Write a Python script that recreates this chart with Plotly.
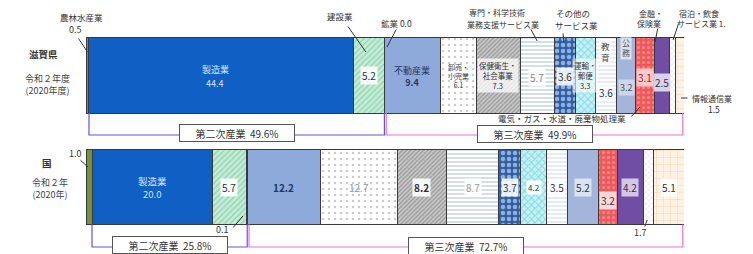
import plotly.graph_objects as go

# ---------------- data ----------------
regions = ["滋賀県", "国"]
industries = ["農林水産業", "製造業", "建設業", "鉱業", "不動産業", "卸売・小売業",
              "保健衛生・社会事業", "専門・科学技術、業務支援サービス業", "その他のサービス業",
              "運輸・郵便業", "教育", "公務", "電気・ガス・水道・廃棄物処理業",
              "金融・保険業", "宿泊・飲食サービス業", "情報通信業"]
shiga = [0.5, 44.4, 5.2, 0.0, 9.4, 6.1, 7.3, 5.7, 3.6, 3.3, 3.6, 3.2, 3.1, 2.5, 1.0, 1.5]
kuni = [1.0, 20.0, 5.7, 0.1, 12.2, 12.7, 8.2, 8.7, 3.7, 4.2, 3.5, 5.2, 3.2, 4.2, 1.7, 5.1]
secondary_share = [49.6, 25.8]
tertiary_share = [49.9, 72.7]
region_sub = ["令和２年度<br>(2020年度)", "令和２年<br>(2020年)"]

# ---------------- styles ----------------
FONT = "Noto Sans CJK JP"
styles = [
    dict(color="#76923c"),
    dict(color="#0f5fc4"),
    dict(color="#c6ecd6", shape="/", fg="#52b788", size=4, sol=0.3),
    dict(color="#c8c8c8"),
    dict(color="#8eaadb"),
    dict(color="#ffffff", shape=".", fg="#9a9a9a", size=6, sol=0.15),
    dict(color="#c8c8c8", shape="/", fg="#666666", size=3, sol=0.4),
    dict(color="#ffffff", shape="-", fg="#9fb3d9", size=4, sol=0.45),
    dict(color="#2e5faa", shape=".", fg="#ffffff", size=6, sol=0.45),
    dict(color="#c6f1f4", shape="x", fg="#3cc0d0", size=5, sol=0.35),
    dict(color="#ffffff", shape="-", fg="#a6bde0", size=4, sol=0.3),
    dict(color="#a3b5db"),
    dict(color="#ee5a5a", shape=".", fg="#ffb4b4", size=5, sol=0.3),
    dict(color="#6f4ea3"),
    dict(color="#ffffff", shape="x", fg="#a0b0c8", size=4, sol=0.2),
    dict(color="#fff3e6", shape="+", fg="#f3b97c", size=7, sol=0.15),
]

ROW_Y = [1, 0]          # 滋賀県 on top, 国 below
BAR_W = 0.673
PX_PER_Y = 111.5        # pixels per y unit

fig = go.Figure()
for i, name in enumerate(industries):
    st = styles[i]
    marker = dict(color=st["color"], line=dict(color="#3a3a3a", width=1))
    if "shape" in st:
        marker["pattern"] = dict(shape=st["shape"], fgcolor=st["fg"], size=st["size"],
                                 solidity=st["sol"], fillmode="overlay")
    fig.add_trace(go.Bar(y=ROW_Y, x=[shiga[i], kuni[i]], orientation="h", name=name,
                         marker=marker, width=BAR_W, hoverinfo="name+x"))

# normalised cumulative positions (percent)
def cum(vals):
    tot = sum(vals)
    s, e, acc = [], [], 0.0
    for v in vals:
        s.append(acc / tot * 100)
        acc += v
        e.append(acc / tot * 100)
    return s, e

pos = [cum(shiga), cum(kuni)]
def mid(r, i):
    return (pos[r][0][i] + pos[r][1][i]) / 2
def start(r, i):
    return pos[r][0][i]
def end(r, i):
    return pos[r][1][i]

ann = []
def label(r, i, text, dy=0, size=9, color="#333", bg=None, dx=0, xanchor="center"):
    a = dict(x=mid(r, i), y=ROW_Y[r], xref="x", yref="y", text=text, showarrow=False,
             xshift=dx, yshift=-dy, xanchor=xanchor,
             font=dict(family=FONT, size=size, color=color), borderpad=1)
    if bg:
        a["bgcolor"] = bg
    ann.append(a)

def leader(r, i, dx, dy, ax, ay):
    ann.append(dict(x=mid(r, i), y=ROW_Y[r], xref="x", yref="y", text="", showarrow=True,
                    arrowhead=0, arrowwidth=1, arrowcolor="#333", ax=ax, ay=ay,
                    xshift=dx, yshift=-dy))

W = "rgba(255,255,255,0.88)"
# --- 滋賀県 inner labels
label(0, 1, "製造業", -6, 9, "#d6e6ff", dx=-6)
label(0, 1, "44.4", 7.5, 9, "#d6e6ff", dx=-6)
label(0, 2, "5.2", 0, 10, "#333", W)
label(0, 4, "不動産業<br><b>9.4</b>", 1, 9, "#1f3864")
label(0, 5, "卸売・<br>小売業<br>6.1", 0, 7, "#444")
label(0, 6, "保健衛生・<br>社会事業<br>7.3", 0, 7.5, "#333", "rgba(255,255,255,0.75)")
label(0, 7, "5.7", 2, 10, "#888", W)
label(0, 8, "3.6", 1, 10, "#333", W)
label(0, 9, "運輸・<br>郵便<br>3.3", 0, 7.5, "#333", "rgba(255,255,255,0.6)")
label(0, 10, "教<br>育", -24.5, 8.5, "#444", "rgba(255,255,255,0.6)")
label(0, 10, "3.6", 16.5, 10, "#333", "rgba(255,255,255,0.6)")
label(0, 11, "公<br>務", -28.5, 8, "#555", "rgba(255,255,255,0.6)")
label(0, 11, "3.2", 11.5, 9, "#555", "rgba(255,255,255,0.45)")
label(0, 12, "3.1", 1.5, 10, "#a0203a", "rgba(255,225,225,0.8)")
label(0, 13, "2.5", 6.5, 10, "#333", "rgba(232,224,245,0.9)")

# --- 国 inner labels
label(1, 1, "製造業", -6.5, 9.5, "#d6e6ff")
label(1, 1, "20.0", 7, 9.5, "#d6e6ff")
label(1, 2, "5.7", 0, 10, "#333", W)
label(1, 4, "<b>12.2</b>", 0, 10, "#1f3864")
label(1, 5, "12.7", 0, 10, "#999")
label(1, 6, "<b>8.2</b>", 0, 10, "#333", W)
label(1, 7, "8.7", 0, 10, "#999", W)
label(1, 8, "3.7", 0, 10, "#333", W)
label(1, 9, "4.2", 0, 8, "#333", W)
label(1, 10, "3.5", 0, 10, "#333", W)
label(1, 11, "5.2", 0, 10, "#333", "rgba(225,232,245,0.9)")
label(1, 12, "3.2", 13, 10, "#333", "rgba(255,225,225,0.9)")
label(1, 13, "4.2", 0, 10, "#333", "rgba(222,212,240,0.9)")
label(1, 15, "5.1", 0, 10, "#333", W)

# --- outside labels 滋賀県
O = "#333"
label(0, 0, "農林水産業", -58.5, 8.5, O, dx=-5.5)
label(0, 0, "0.5", -46.5, 9, O, dx=-11.5)
leader(0, 0, 0, -23.5, -10, -15)
label(0, 2, "建設業", -59.5, 8.5, O, dx=-29)
leader(0, 2, -3, -23.5, -19, -27)
label(0, 3, "鉱業 0.0", -52.5, 8.5, O, dx=12)
leader(0, 3, 2.6, -28.5, 10, -19)
label(0, 7, "専門・科学技術", -63.5, 8, O, dx=-70, xanchor="left")
label(0, 7, "業務支援サービス業", -51.5, 8, O, dx=-72, xanchor="left")
leader(0, 7, 0, -34.5, -7, -13)
label(0, 8, "その他の", -62.5, 8.5, O, dx=8)
label(0, 8, "サービス業", -50.5, 8.5, O, dx=12)
leader(0, 8, -1, -33.5, -1, -10)
label(0, 13, "金融・", -62.5, 8, O, dx=-10.6)
label(0, 13, "保険業", -52.5, 8, O, dx=-12.6)
leader(0, 13, -6.6, -33.5, 3, -15)
label(0, 14, "宿泊・飲食", -62.5, 8, O, dx=5, xanchor="left")
label(0, 14, "サービス業 1.", -52.5, 8, O, dx=3, xanchor="left")
leader(0, 14, 1, -35.5, 6, -18)
label(0, 15, "情報通信業", 22.5, 8, O, dx=10.5, xanchor="left")
label(0, 15, "1.5", 33.5, 8.5, O, dx=34.5)
leader(0, 15, 1.5, 22.5, 8, 0)
label(0, 12, "電気・ガス・水道・廃棄物処理業", 42.5, 8.5, O, dx=-83)
leader(0, 12, -5, 31.5, -10, 11)

# --- outside labels 国
label(1, 0, "1.0", -34, 9, O, dx=-14)
leader(1, 0, -1, -20, -9, -8)
label(1, 3, "0.1", 42, 9, O, dx=-24)
leader(1, 3, -4, 29, -11, 13)
label(1, 14, "1.7", 45, 9, O, dx=-8)
leader(1, 14, -1, 33, -3, 8)

# --- region titles (left)
for r, (name, sub) in enumerate(zip(regions, region_sub)):
    yc = [75.5, 187][r]
    ty = [54, 163][r]
    sy = [84, 188][r]
    ann.append(dict(x=0, y=ROW_Y[r], xref="x", yref="y", text=f"<b>{name}</b>",
                    showarrow=False, xanchor="center", xshift=-43 if r == 0 else -39,
                    yshift=yc - ty, font=dict(family=FONT, size=9.5, color="#333")))
    ann.append(dict(x=0, y=ROW_Y[r], xref="x", yref="y", text=sub,
                    showarrow=False, xanchor="center", xshift=-39 if r == 0 else -36,
                    yshift=yc - sy, font=dict(family=FONT, size=9, color="#444")))

# --- brackets for 第二次産業 / 第三次産業
PURPLE = "#6a4fe0"
PINK = "#f070d8"
shapes = []
bar_bottom = [ROW_Y[0] - BAR_W / 2, ROW_Y[1] - BAR_W / 2]
drop = [22 / PX_PER_Y, 22.5 / PX_PER_Y]
for r in range(2):
    y0 = bar_bottom[r]
    y1 = y0 - drop[r]
    xs0, xs1 = start(r, 1), end(r, 3)
    xt0, xt1 = end(r, 3) + 0.3, 99.8
    shapes.append(dict(type="path", xref="x", yref="y",
                       path=f"M {xs0},{y0} L {xs0},{y1} L {xs1},{y1} L {xs1},{y0}",
                       line=dict(color=PURPLE, width=1.2)))
    shapes.append(dict(type="path", xref="x", yref="y",
                       path=f"M {xt0},{y0} L {xt0},{y1} L {xt1},{y1} L {xt1},{y0}",
                       line=dict(color=PINK, width=1.2)))
    for (a, b, txt, shift) in [(xs0, xs1, f"第二次産業  {secondary_share[r]}%", 2),
                               (xt0, xt1, f"第三次産業  {tertiary_share[r]}%", 1.5)]:
        ann.append(dict(x=(a + b) / 2, y=y1, xref="x", yref="y", text=txt, showarrow=False,
                        yshift=shift, width=112, height=14, bgcolor="white",
                        bordercolor="#555", borderwidth=1, borderpad=1,
                        font=dict(family=FONT, size=10, color="#333")))

fig.update_layout(
    width=753, height=254, autosize=False,
    margin=dict(l=86, r=69, t=0, b=0),
    barmode="stack", barnorm="percent", showlegend=False,
    plot_bgcolor="white", paper_bgcolor="white",
    xaxis=dict(range=[0, 100], visible=False, fixedrange=True),
    yaxis=dict(range=[(187 - 254) / PX_PER_Y, 187 / PX_PER_Y], visible=False, fixedrange=True),
    annotations=ann, shapes=shapes,
    font=dict(family=FONT),
)

fig.write_html("out.html", config={"displayModeBar": False},
               post_script="document.body.style.margin='0';document.body.style.overflow='hidden';")
